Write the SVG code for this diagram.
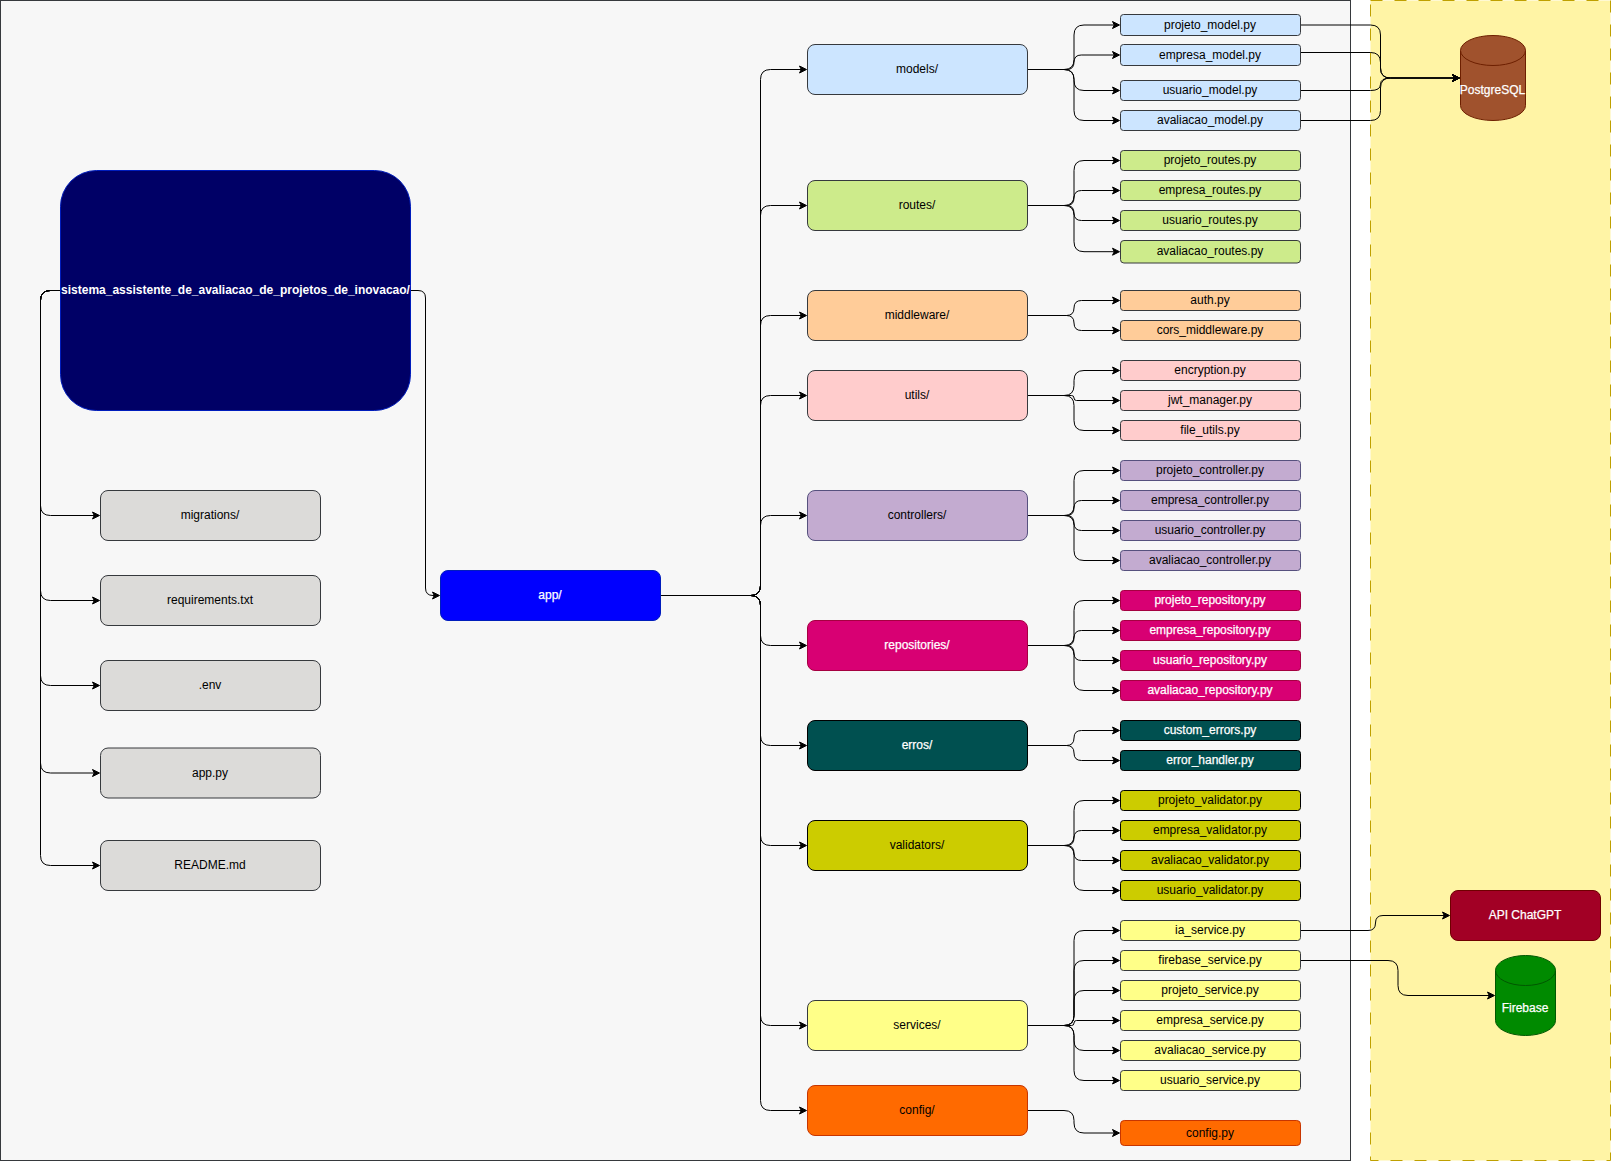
<svg xmlns="http://www.w3.org/2000/svg" width="1611" height="1161" viewBox="0 0 1611 1161">
<style>
text{font-family:"Liberation Sans",Arial,sans-serif;font-size:12px;text-anchor:middle;fill:#000;transform:translateX(-.5px)}
text.w{fill:#fff;stroke:#fff;stroke-width:.25px}
text.b{font-weight:bold;stroke-width:0}
rect,path.c{stroke-width:1}
.c{fill:none;stroke:#000;marker-end:url(#a)}
.n{stroke:#36393d}
.gr{fill:#dcdbd9}.mo{fill:#cce5ff}.ro{fill:#cdeb8b}.mi{fill:#ffcc99}.ut{fill:#ffcccc}
.co{fill:#c3abd0;stroke:#56517e}.re{fill:#d80073;stroke:#a50040}.er{fill:#005050;stroke:#000}
.va{fill:#cccc00;stroke:#000}.se{fill:#ffff88}.cf{fill:#ff6a00;stroke:#c73500}
</style>
<defs>
<marker id="a" markerUnits="userSpaceOnUse" markerWidth="12" markerHeight="10" refX="4.5" refY="5" orient="auto" overflow="visible"><path d="M7.5 5L0.5 1.5L2.25 5L0.5 8.5Z" fill="#000" stroke="#000"/></marker>
</defs>
<rect id="backend-area" x="0.5" y="0.5" width="1350" height="1160" fill="#f7f7f7" stroke="#36393d"/>
<rect id="external-area" x="1370.5" y="0.5" width="240" height="1160" fill="#fff4a5" stroke="#bfa000" stroke-dasharray="12 12"/>
<g id="connectors">
<path class="c" d="M60.5 290.5H50.5Q40.5 290.5 40.5 300.5V505.5Q40.5 515.5 50.5 515.5H96.5"/>
<path class="c" d="M60.5 290.5H50.5Q40.5 290.5 40.5 300.5V590.5Q40.5 600.5 50.5 600.5H96.5"/>
<path class="c" d="M60.5 290.5H50.5Q40.5 290.5 40.5 300.5V675.5Q40.5 685.5 50.5 685.5H96.5"/>
<path class="c" d="M60.5 290.5H50.5Q40.5 290.5 40.5 300.5V763Q40.5 773 50.5 773H96.5"/>
<path class="c" d="M60.5 290.5H50.5Q40.5 290.5 40.5 300.5V855.5Q40.5 865.5 50.5 865.5H96.5"/>
<path class="c" d="M410.5 290.5H418Q425.5 290.5 425.5 298V588Q425.5 595.5 433 595.5H436.5"/>
<path class="c" d="M660.5 595.5H750.5Q760.5 595.5 760.5 585.5V79.5Q760.5 69.5 770.5 69.5H803.5"/>
<path class="c" d="M660.5 595.5H750.5Q760.5 595.5 760.5 585.5V215.5Q760.5 205.5 770.5 205.5H803.5"/>
<path class="c" d="M660.5 595.5H750.5Q760.5 595.5 760.5 585.5V325.5Q760.5 315.5 770.5 315.5H803.5"/>
<path class="c" d="M660.5 595.5H750.5Q760.5 595.5 760.5 585.5V405.5Q760.5 395.5 770.5 395.5H803.5"/>
<path class="c" d="M660.5 595.5H750.5Q760.5 595.5 760.5 585.5V525.5Q760.5 515.5 770.5 515.5H803.5"/>
<path class="c" d="M660.5 595.5H750.5Q760.5 595.5 760.5 605.5V635.5Q760.5 645.5 770.5 645.5H803.5"/>
<path class="c" d="M660.5 595.5H750.5Q760.5 595.5 760.5 605.5V735.5Q760.5 745.5 770.5 745.5H803.5"/>
<path class="c" d="M660.5 595.5H750.5Q760.5 595.5 760.5 605.5V835.5Q760.5 845.5 770.5 845.5H803.5"/>
<path class="c" d="M660.5 595.5H750.5Q760.5 595.5 760.5 605.5V1015.5Q760.5 1025.5 770.5 1025.5H803.5"/>
<path class="c" d="M660.5 595.5H750.5Q760.5 595.5 760.5 605.5V1100.5Q760.5 1110.5 770.5 1110.5H803.5"/>
<path class="c" d="M1027.5 69.5H1064Q1074 69.5 1074 59.5V35Q1074 25 1084 25H1116.5"/>
<path class="c" d="M1027.5 69.5H1066.75Q1074 69.5 1074 62.25Q1074 55 1081.25 55H1116.5"/>
<path class="c" d="M1027.5 69.5H1064Q1074 69.5 1074 79.5V80.5Q1074 90.5 1084 90.5H1116.5"/>
<path class="c" d="M1027.5 69.5H1064Q1074 69.5 1074 79.5V110.5Q1074 120.5 1084 120.5H1116.5"/>
<path class="c" d="M1027.5 205.5H1064Q1074 205.5 1074 195.5V170.5Q1074 160.5 1084 160.5H1116.5"/>
<path class="c" d="M1027.5 205.5H1066.5Q1074 205.5 1074 198Q1074 190.5 1081.5 190.5H1116.5"/>
<path class="c" d="M1027.5 205.5H1066.5Q1074 205.5 1074 213Q1074 220.5 1081.5 220.5H1116.5"/>
<path class="c" d="M1027.5 205.5H1064Q1074 205.5 1074 215.5V241.7Q1074 251.7 1084 251.7H1116.5"/>
<path class="c" d="M1027.5 315.5H1066.5Q1074 315.5 1074 308Q1074 300.5 1081.5 300.5H1116.5"/>
<path class="c" d="M1027.5 315.5H1066.5Q1074 315.5 1074 323Q1074 330.5 1081.5 330.5H1116.5"/>
<path class="c" d="M1027.5 395.5H1064Q1074 395.5 1074 385.5V380.5Q1074 370.5 1084 370.5H1116.5"/>
<path class="c" d="M1027.5 395.5H1071.5Q1074 395.5 1074 398Q1074 400.5 1076.5 400.5H1116.5"/>
<path class="c" d="M1027.5 395.5H1064Q1074 395.5 1074 405.5V420.5Q1074 430.5 1084 430.5H1116.5"/>
<path class="c" d="M1027.5 515.5H1064Q1074 515.5 1074 505.5V480.5Q1074 470.5 1084 470.5H1116.5"/>
<path class="c" d="M1027.5 515.5H1066.5Q1074 515.5 1074 508Q1074 500.5 1081.5 500.5H1116.5"/>
<path class="c" d="M1027.5 515.5H1066.5Q1074 515.5 1074 523Q1074 530.5 1081.5 530.5H1116.5"/>
<path class="c" d="M1027.5 515.5H1064Q1074 515.5 1074 525.5V550.5Q1074 560.5 1084 560.5H1116.5"/>
<path class="c" d="M1027.5 645.5H1064Q1074 645.5 1074 635.5V610.5Q1074 600.5 1084 600.5H1116.5"/>
<path class="c" d="M1027.5 645.5H1066.5Q1074 645.5 1074 638Q1074 630.5 1081.5 630.5H1116.5"/>
<path class="c" d="M1027.5 645.5H1066.5Q1074 645.5 1074 653Q1074 660.5 1081.5 660.5H1116.5"/>
<path class="c" d="M1027.5 645.5H1064Q1074 645.5 1074 655.5V680.5Q1074 690.5 1084 690.5H1116.5"/>
<path class="c" d="M1027.5 745.5H1066.5Q1074 745.5 1074 738Q1074 730.5 1081.5 730.5H1116.5"/>
<path class="c" d="M1027.5 745.5H1066.5Q1074 745.5 1074 753Q1074 760.5 1081.5 760.5H1116.5"/>
<path class="c" d="M1027.5 845.5H1064Q1074 845.5 1074 835.5V810.5Q1074 800.5 1084 800.5H1116.5"/>
<path class="c" d="M1027.5 845.5H1066.5Q1074 845.5 1074 838Q1074 830.5 1081.5 830.5H1116.5"/>
<path class="c" d="M1027.5 845.5H1066.5Q1074 845.5 1074 853Q1074 860.5 1081.5 860.5H1116.5"/>
<path class="c" d="M1027.5 845.5H1064Q1074 845.5 1074 855.5V880.5Q1074 890.5 1084 890.5H1116.5"/>
<path class="c" d="M1027.5 1025.5H1064Q1074 1025.5 1074 1015.5V940.5Q1074 930.5 1084 930.5H1116.5"/>
<path class="c" d="M1027.5 1025.5H1064Q1074 1025.5 1074 1015.5V970.5Q1074 960.5 1084 960.5H1116.5"/>
<path class="c" d="M1027.5 1025.5H1064Q1074 1025.5 1074 1015.5V1000.5Q1074 990.5 1084 990.5H1116.5"/>
<path class="c" d="M1027.5 1025.5H1071.5Q1074 1025.5 1074 1023Q1074 1020.5 1076.5 1020.5H1116.5"/>
<path class="c" d="M1027.5 1025.5H1064Q1074 1025.5 1074 1035.5V1040.5Q1074 1050.5 1084 1050.5H1116.5"/>
<path class="c" d="M1027.5 1025.5H1064Q1074 1025.5 1074 1035.5V1070.5Q1074 1080.5 1084 1080.5H1116.5"/>
<path class="c" d="M1027.5 1110.5H1064Q1074 1110.5 1074 1120.5V1123Q1074 1133 1084 1133H1116.5"/>
<path class="c" d="M1300.5 25H1370.5Q1380.5 25 1380.5 35V68Q1380.5 78 1390.5 78H1456.5"/>
<path class="c" d="M1300.5 52.5H1370.5Q1380.5 52.5 1380.5 62.5V68Q1380.5 78 1390.5 78H1456.5"/>
<path class="c" d="M1300.5 90.5H1370.5Q1380.5 90.5 1380.5 84.25Q1380.5 78 1390.5 78H1456.5"/>
<path class="c" d="M1300.5 120.5H1370.5Q1380.5 120.5 1380.5 110.5V88Q1380.5 78 1390.5 78H1456.5"/>
<path class="c" d="M1300.5 930.5H1368Q1375.5 930.5 1375.5 923Q1375.5 915.5 1383 915.5H1446.5"/>
<path class="c" d="M1300.5 960.5H1388Q1398 960.5 1398 970.5V985.5Q1398 995.5 1408 995.5H1491.5"/>
</g>
<g id="root"><rect x="60.5" y="170.5" width="350" height="240" rx="36" fill="#000066" stroke="#001dbc"/><text class="w b" x="236" y="294">sistema_assistente_de_avaliacao_de_projetos_de_inovacao/</text></g>
<g id="migrations"><rect class="gr n" x="100.5" y="490.5" width="220" height="50" rx="7.5"/><text x="210.5" y="519">migrations/</text></g>
<g id="requirements"><rect class="gr n" x="100.5" y="575.5" width="220" height="50" rx="7.5"/><text x="210.5" y="604">requirements.txt</text></g>
<g id="env"><rect class="gr n" x="100.5" y="660.5" width="220" height="50" rx="7.5"/><text x="210.5" y="689">.env</text></g>
<g id="app-py"><rect class="gr n" x="100.5" y="748" width="220" height="50" rx="7.5"/><text x="210.5" y="776.5">app.py</text></g>
<g id="readme"><rect class="gr n" x="100.5" y="840.5" width="220" height="50" rx="7.5"/><text x="210.5" y="869">README.md</text></g>
<g id="app"><rect x="440.5" y="570.5" width="220" height="50" rx="7.5" fill="#0000ff" stroke="#001dbc"/><text class="w" x="550.5" y="599">app/</text></g>
<g id="models"><rect class="mo n" x="807.5" y="44.5" width="220" height="50" rx="7.5"/><text x="917.5" y="73">models/</text></g>
<g id="routes"><rect class="ro n" x="807.5" y="180.5" width="220" height="50" rx="7.5"/><text x="917.5" y="209">routes/</text></g>
<g id="middleware"><rect class="mi n" x="807.5" y="290.5" width="220" height="50" rx="7.5"/><text x="917.5" y="319">middleware/</text></g>
<g id="utils"><rect class="ut n" x="807.5" y="370.5" width="220" height="50" rx="7.5"/><text x="917.5" y="399">utils/</text></g>
<g id="controllers"><rect class="co" x="807.5" y="490.5" width="220" height="50" rx="7.5"/><text x="917.5" y="519">controllers/</text></g>
<g id="repositories"><rect class="re" x="807.5" y="620.5" width="220" height="50" rx="7.5"/><text class="w" x="917.5" y="649">repositories/</text></g>
<g id="erros"><rect class="er" x="807.5" y="720.5" width="220" height="50" rx="7.5"/><text class="w" x="917.5" y="749">erros/</text></g>
<g id="validators"><rect class="va" x="807.5" y="820.5" width="220" height="50" rx="7.5"/><text x="917.5" y="849">validators/</text></g>
<g id="services"><rect class="se n" x="807.5" y="1000.5" width="220" height="50" rx="7.5"/><text x="917.5" y="1029">services/</text></g>
<g id="config"><rect class="cf" x="807.5" y="1085.5" width="220" height="50" rx="7.5"/><text x="917.5" y="1114">config/</text></g>
<g id="projeto-model"><rect class="mo n" x="1120.5" y="14.5" width="180" height="21" rx="3"/><text x="1210.5" y="29">projeto_model.py</text></g>
<g id="empresa-model"><rect class="mo n" x="1120.5" y="44.5" width="180" height="21" rx="3"/><text x="1210.5" y="59">empresa_model.py</text></g>
<g id="usuario-model"><rect class="mo n" x="1120.5" y="80.5" width="180" height="20" rx="3"/><text x="1210.5" y="94">usuario_model.py</text></g>
<g id="avaliacao-model"><rect class="mo n" x="1120.5" y="110.5" width="180" height="20" rx="3"/><text x="1210.5" y="124">avaliacao_model.py</text></g>
<g id="projeto-routes"><rect class="ro n" x="1120.5" y="150.5" width="180" height="20" rx="3"/><text x="1210.5" y="164">projeto_routes.py</text></g>
<g id="empresa-routes"><rect class="ro n" x="1120.5" y="180.5" width="180" height="20" rx="3"/><text x="1210.5" y="194">empresa_routes.py</text></g>
<g id="usuario-routes"><rect class="ro n" x="1120.5" y="210.5" width="180" height="20" rx="3"/><text x="1210.5" y="224">usuario_routes.py</text></g>
<g id="avaliacao-routes"><rect class="ro n" x="1120.5" y="240.5" width="180" height="22.5" rx="3.4"/><text x="1210.5" y="255">avaliacao_routes.py</text></g>
<g id="auth"><rect class="mi n" x="1120.5" y="290.5" width="180" height="20" rx="3"/><text x="1210.5" y="304">auth.py</text></g>
<g id="cors-middleware"><rect class="mi n" x="1120.5" y="320.5" width="180" height="20" rx="3"/><text x="1210.5" y="334">cors_middleware.py</text></g>
<g id="encryption"><rect class="ut n" x="1120.5" y="360.5" width="180" height="20" rx="3"/><text x="1210.5" y="374">encryption.py</text></g>
<g id="jwt-manager"><rect class="ut n" x="1120.5" y="390.5" width="180" height="20" rx="3"/><text x="1210.5" y="404">jwt_manager.py</text></g>
<g id="file-utils"><rect class="ut n" x="1120.5" y="420.5" width="180" height="20" rx="3"/><text x="1210.5" y="434">file_utils.py</text></g>
<g id="projeto-controller"><rect class="co" x="1120.5" y="460.5" width="180" height="20" rx="3"/><text x="1210.5" y="474">projeto_controller.py</text></g>
<g id="empresa-controller"><rect class="co" x="1120.5" y="490.5" width="180" height="20" rx="3"/><text x="1210.5" y="504">empresa_controller.py</text></g>
<g id="usuario-controller"><rect class="co" x="1120.5" y="520.5" width="180" height="20" rx="3"/><text x="1210.5" y="534">usuario_controller.py</text></g>
<g id="avaliacao-controller"><rect class="co" x="1120.5" y="550.5" width="180" height="20" rx="3"/><text x="1210.5" y="564">avaliacao_controller.py</text></g>
<g id="projeto-repository"><rect class="re" x="1120.5" y="590.5" width="180" height="20" rx="3"/><text class="w" x="1210.5" y="604">projeto_repository.py</text></g>
<g id="empresa-repository"><rect class="re" x="1120.5" y="620.5" width="180" height="20" rx="3"/><text class="w" x="1210.5" y="634">empresa_repository.py</text></g>
<g id="usuario-repository"><rect class="re" x="1120.5" y="650.5" width="180" height="20" rx="3"/><text class="w" x="1210.5" y="664">usuario_repository.py</text></g>
<g id="avaliacao-repository"><rect class="re" x="1120.5" y="680.5" width="180" height="20" rx="3"/><text class="w" x="1210.5" y="694">avaliacao_repository.py</text></g>
<g id="custom-errors"><rect class="er" x="1120.5" y="720.5" width="180" height="20" rx="3"/><text class="w" x="1210.5" y="734">custom_errors.py</text></g>
<g id="error-handler"><rect class="er" x="1120.5" y="750.5" width="180" height="20" rx="3"/><text class="w" x="1210.5" y="764">error_handler.py</text></g>
<g id="projeto-validator"><rect class="va" x="1120.5" y="790.5" width="180" height="20" rx="3"/><text x="1210.5" y="804">projeto_validator.py</text></g>
<g id="empresa-validator"><rect class="va" x="1120.5" y="820.5" width="180" height="20" rx="3"/><text x="1210.5" y="834">empresa_validator.py</text></g>
<g id="avaliacao-validator"><rect class="va" x="1120.5" y="850.5" width="180" height="20" rx="3"/><text x="1210.5" y="864">avaliacao_validator.py</text></g>
<g id="usuario-validator"><rect class="va" x="1120.5" y="880.5" width="180" height="20" rx="3"/><text x="1210.5" y="894">usuario_validator.py</text></g>
<g id="ia-service"><rect class="se n" x="1120.5" y="920.5" width="180" height="20" rx="3"/><text x="1210.5" y="934">ia_service.py</text></g>
<g id="firebase-service"><rect class="se n" x="1120.5" y="950.5" width="180" height="20" rx="3"/><text x="1210.5" y="964">firebase_service.py</text></g>
<g id="projeto-service"><rect class="se n" x="1120.5" y="980.5" width="180" height="20" rx="3"/><text x="1210.5" y="994">projeto_service.py</text></g>
<g id="empresa-service"><rect class="se n" x="1120.5" y="1010.5" width="180" height="20" rx="3"/><text x="1210.5" y="1024">empresa_service.py</text></g>
<g id="avaliacao-service"><rect class="se n" x="1120.5" y="1040.5" width="180" height="20" rx="3"/><text x="1210.5" y="1054">avaliacao_service.py</text></g>
<g id="usuario-service"><rect class="se n" x="1120.5" y="1070.5" width="180" height="20" rx="3"/><text x="1210.5" y="1084">usuario_service.py</text></g>
<g id="config-py"><rect class="cf" x="1120.5" y="1120.5" width="180" height="25" rx="3.75"/><text x="1210.5" y="1137">config.py</text></g>
<g id="postgresql"><path d="M1460.5 50.5A32.5 15 0 0 1 1525.5 50.5V105.5A32.5 15 0 0 1 1460.5 105.5Z" fill="#a0522d" stroke="#6d1f00"/><path d="M1460.5 50.5A32.5 15 0 0 0 1525.5 50.5" fill="none" stroke="#6d1f00"/><text class="w" x="1493" y="94">PostgreSQL</text></g>
<g id="api-chatgpt"><rect x="1450.5" y="890.5" width="150" height="50" rx="7.5" fill="#a20025" stroke="#6f0000"/><text class="w" x="1525.5" y="919">API ChatGPT</text></g>
<g id="firebase"><path d="M1495.5 970.5A30 15 0 0 1 1555.5 970.5V1020.5A30 15 0 0 1 1495.5 1020.5Z" fill="#008a00" stroke="#005700"/><path d="M1495.5 970.5A30 15 0 0 0 1555.5 970.5" fill="none" stroke="#005700"/><text class="w" x="1525.5" y="1012">Firebase</text></g>
</svg>
